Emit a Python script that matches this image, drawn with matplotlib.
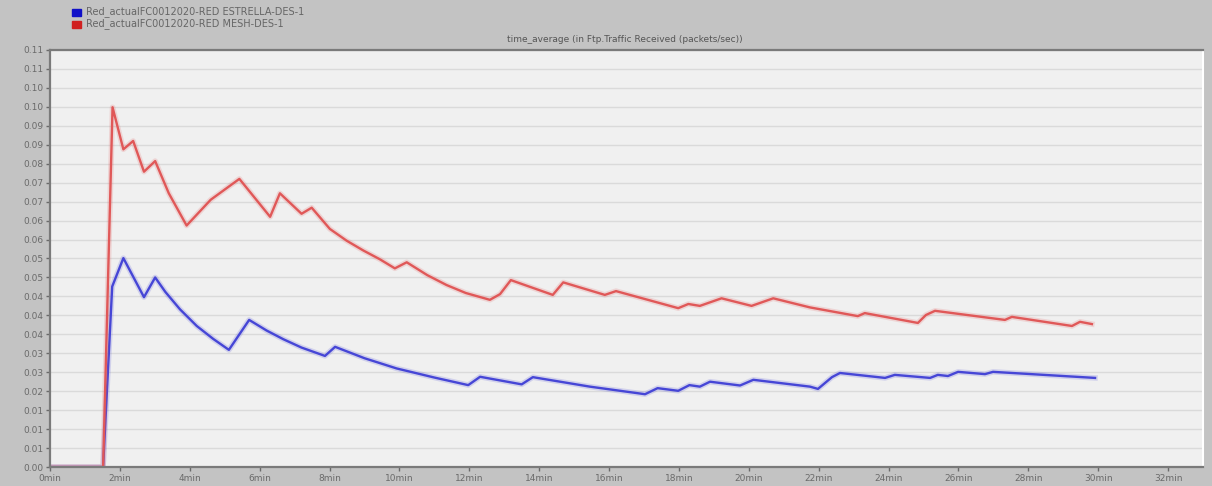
import numpy as np
import matplotlib.pyplot as plt

# time in minutes, traffic received in packets/sec
mesh_t = [0, 1.52, 1.79, 2.10, 2.38, 2.69, 3.01, 3.40, 3.91, 4.60, 5.42, 6.30, 6.58,
          7.20, 7.49, 8.01, 8.49, 8.97, 9.44, 9.87, 10.21, 10.80, 11.35, 11.90, 12.59,
          12.88, 13.19, 14.39, 14.69, 15.88, 16.20, 17.98, 18.27, 18.60, 19.22, 20.08,
          20.70, 21.75, 23.12, 23.32, 24.84, 25.07, 25.33, 27.33, 27.53, 29.25, 29.48,
          29.82]
mesh_v = [0, 0, 0.0949, 0.0838, 0.0860, 0.0779, 0.0807, 0.0722, 0.0637, 0.0705, 0.0760,
          0.0660, 0.0722, 0.0668, 0.0684, 0.0628, 0.0597, 0.0571, 0.0548, 0.0524, 0.0540,
          0.0506, 0.0480, 0.0459, 0.0441, 0.0456, 0.0493, 0.0454, 0.0487, 0.0454, 0.0464,
          0.0419, 0.0430, 0.0425, 0.0445, 0.0425, 0.0445, 0.0421, 0.0398, 0.0406, 0.0380,
          0.0401, 0.0412, 0.0388, 0.0396, 0.0372, 0.0383, 0.0377]

star_t = [0, 1.52, 1.78, 2.10, 2.69, 3.01, 3.30, 3.72, 4.20, 4.67, 5.12, 5.70, 6.20,
          6.68, 7.20, 7.87, 8.16, 9.00, 9.92, 11.00, 11.97, 12.31, 13.50, 13.82, 15.45,
          17.03, 17.39, 17.98, 18.30, 18.60, 18.89, 19.75, 20.13, 21.75, 21.98, 22.38,
          22.61, 23.90, 24.18, 25.19, 25.41, 25.70, 25.99, 26.76, 26.99, 29.91]
star_v = [0, 0, 0.0476, 0.0551, 0.0448, 0.0500, 0.0462, 0.0416, 0.0372, 0.0338, 0.0309,
          0.0388, 0.0360, 0.0337, 0.0315, 0.0293, 0.0317, 0.0287, 0.0260, 0.0236, 0.0216,
          0.0238, 0.0218, 0.0237, 0.0212, 0.0192, 0.0208, 0.0201, 0.0216, 0.0212, 0.0225,
          0.0215, 0.0230, 0.0212, 0.0206, 0.0237, 0.0248, 0.0235, 0.0243, 0.0235, 0.0243,
          0.0240, 0.0251, 0.0245, 0.0251, 0.0235]

y_labels = ["0.00", "0.01", "0.01", "0.01", "0.02", "0.03", "0.03", "0.04", "0.04",
            "0.04", "0.05", "0.05", "0.06", "0.06", "0.07", "0.07", "0.08", "0.09",
            "0.09", "0.10", "0.10", "0.11", "0.11"]
x_labels = [f"{m}min" for m in range(0, 33, 2)]

star_name = "Red_actualFC0012020-RED ESTRELLA-DES-1"
mesh_name = "Red_actualFC0012020-RED MESH-DES-1"
title = "time_average (in Ftp.Traffic Received (packets/sec))"

fig = plt.figure(figsize=(12.12, 4.86), dpi=100, facecolor="#c3c3c3")
ax = fig.add_axes([50 / 1212, 19 / 486, 1153 / 1212, 417 / 486])
ax.set_facecolor("#f0f0f0")

yt = np.arange(len(y_labels)) * 0.005
ax.set_yticks(yt)
ax.set_yticklabels(y_labels)
ax.set_xticks(np.arange(0, 33, 2))
ax.set_xticklabels(x_labels)
ax.set_xlim(0, 33)
ax.set_ylim(0, 0.11)
ax.grid(axis="y", color="#dadada", lw=1)
ax.set_axisbelow(True)

for c, t, v in [("#4646d6", star_t, star_v), ("#e05858", mesh_t, mesh_v)]:
    ax.plot(t, v, color=c, lw=4, alpha=0.18, solid_joinstyle="round")
    ax.plot(t, v, color=c, lw=1.7, solid_joinstyle="round")

ax.tick_params(colors="#6a6a6a", labelsize=6.5, length=3, width=1, pad=2)
for s in ["left", "bottom", "top"]:
    ax.spines[s].set_color("#7a7a7a")
    ax.spines[s].set_linewidth(1.6)
ax.spines["right"].set_color("#ffffff")
ax.spines["right"].set_linewidth(1.5)

fig.text(625 / 1212, 1 - 40 / 486, title, ha="center", va="center", fontsize=6.5, color="#555555")

# legend at top left
fig.patches.append(plt.Rectangle((72 / 1212, 1 - 16 / 486), 9 / 1212, 7 / 486,
                                 transform=fig.transFigure, color="#1010c8"))
fig.patches.append(plt.Rectangle((72 / 1212, 1 - 28 / 486), 9 / 1212, 7 / 486,
                                 transform=fig.transFigure, color="#d02020"))
fig.text(86 / 1212, 1 - 12 / 486, star_name, va="center", fontsize=7, color="#666666")
fig.text(86 / 1212, 1 - 24 / 486, mesh_name, va="center", fontsize=7, color="#666666")

fig.savefig("out.png", dpi=100, facecolor=fig.get_facecolor())
